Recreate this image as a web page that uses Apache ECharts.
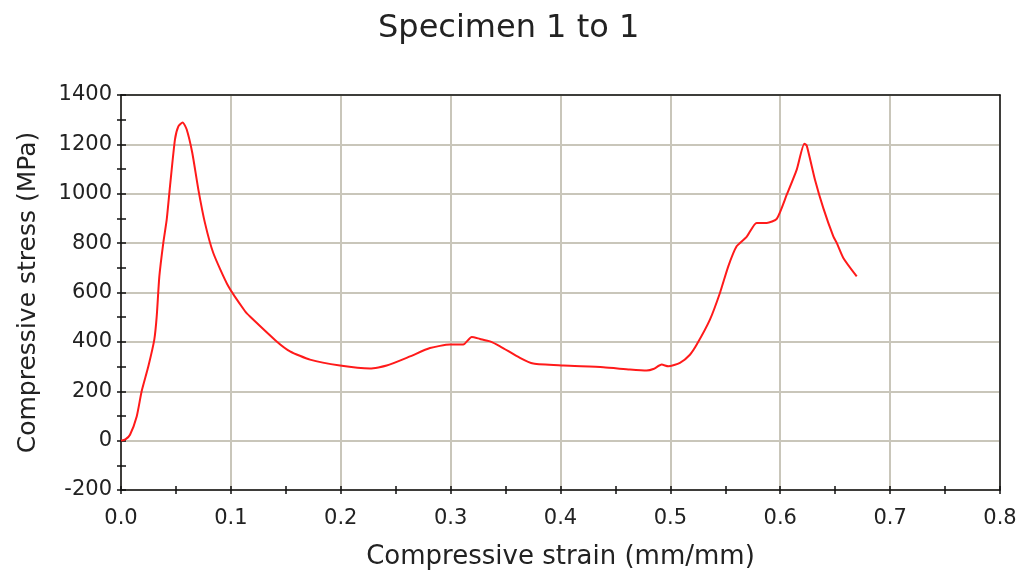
<!DOCTYPE html>
<html>
<head>
<meta charset="utf-8">
<script src="https://cdn.jsdelivr.net/npm/echarts@6/dist/echarts.min.js"></script>
<style>html,body{margin:0;padding:0;background:#fff}#c{width:1024px;height:577px}</style>
</head>
<body>
<div id="c"></div>
<script>
const titleText = 'Specimen 1 to 1';
const xName = 'Compressive strain (mm/mm)';
const yName = 'Compressive stress (MPa)';
const strain = [0,0.004,0.0082,0.0143,0.0188,0.0249,0.0303,0.0325,0.0349,0.0385,0.0416,0.0446,0.0491,0.0522,0.0561,0.0598,0.0649,0.0704,0.0764,0.084,0.0977,0.1129,0.1174,0.1417,0.1538,0.172,0.1993,0.2266,0.2418,0.263,0.2812,0.2994,0.3115,0.3192,0.3267,0.3358,0.345,0.3631,0.3752,0.4026,0.439,0.4632,0.4784,0.4845,0.4921,0.4981,0.5087,0.5178,0.524,0.536,0.5451,0.5527,0.5603,0.5694,0.5785,0.5877,0.5968,0.6059,0.615,0.6219,0.6241,0.6316,0.6392,0.6483,0.6514,0.6574,0.6696];
const stress = [0,5,24,98,200,301,409,503,665,801,895,1030,1219,1273,1289,1260,1165,1017,882,760,625,524,503,402,362,328,304,292,304,341,375,389,389,420,412,402,382,335,312,304,297,288,284,290,308,301,315,348,389,490,598,706,787,825,882,882,898,996,1098,1203,1195,1057,942,827,801,740,665];
const xTicks = {min:0, max:0.8, interval:0.1};
const yTicks = {min:-200, max:1400, interval:200};

const data = strain.map((x,i)=>[x, stress[i]]);
const font = 'DejaVu Sans';
const chart = echarts.init(document.getElementById('c'));
const tickStyle = {color:'#111', width:1.5};
const borderAxis = (extra)=>Object.assign({
  type:'value', axisLine:{show:true, onZero:false, lineStyle:{color:'#111', width:1.5}},
  axisTick:{show:false}, minorTick:{show:false}, axisLabel:{show:false}, splitLine:{show:false}
}, extra);
chart.setOption({
  animation:false,
  title:{text:titleText, left:373, top:8, textStyle:{fontFamily:font, fontSize:32, fontWeight:'normal', color:'#222'}},
  grid:{left:121, right:24, top:95, bottom:87, show:false},
  xAxis:[{
    type:'value', min:xTicks.min, max:xTicks.max, interval:xTicks.interval,
    name:xName, nameLocation:'middle', nameGap:54,
    nameTextStyle:{fontFamily:font, fontSize:26, color:'#222'},
    axisLine:{show:true, onZero:false, lineStyle:{color:'#111', width:1.5}},
    axisTick:{show:true, inside:false, length:4, lineStyle:tickStyle},
    minorTick:{show:true, splitNumber:2, length:4, lineStyle:tickStyle},
    axisLabel:{fontFamily:font, fontSize:21, color:'#222', margin:18, formatter:v=>v.toFixed(1)},
    splitLine:{show:true, lineStyle:{color:'#c9c6ba', width:2}}
  },{
    type:'value', min:xTicks.min, max:xTicks.max, interval:xTicks.interval, position:'bottom',
    axisLine:{show:false, onZero:false},
    axisTick:{show:true, inside:true, length:4, lineStyle:tickStyle},
    minorTick:{show:true, splitNumber:2, length:4, lineStyle:tickStyle},
    axisLabel:{show:false}, splitLine:{show:false}
  }, borderAxis({min:xTicks.min, max:xTicks.max, interval:xTicks.interval, position:'top'})],
  yAxis:[{
    type:'value', min:yTicks.min, max:yTicks.max, interval:yTicks.interval,
    name:yName, nameLocation:'middle', nameGap:80,
    nameTextStyle:{fontFamily:font, fontSize:25, color:'#222'},
    axisLine:{show:true, onZero:false, lineStyle:{color:'#111', width:1.5}},
    axisTick:{show:true, inside:false, length:4, lineStyle:tickStyle},
    minorTick:{show:true, splitNumber:2, length:4, lineStyle:tickStyle},
    axisLabel:{fontFamily:font, fontSize:21, color:'#222', margin:9, formatter:v=>String(v)},
    splitLine:{show:true, lineStyle:{color:'#c9c6ba', width:2}}
  },{
    type:'value', min:yTicks.min, max:yTicks.max, interval:yTicks.interval, position:'left',
    axisLine:{show:false, onZero:false},
    axisTick:{show:true, inside:true, length:5, lineStyle:tickStyle},
    minorTick:{show:true, splitNumber:2, length:5, lineStyle:tickStyle},
    axisLabel:{show:false}, splitLine:{show:false}
  }, borderAxis({min:yTicks.min, max:yTicks.max, interval:yTicks.interval, position:'right'})],
  series:[{
    type:'line', data:data, xAxisIndex:0, yAxisIndex:0, showSymbol:false, smooth:0.2,
    lineStyle:{color:'#ff1a1a', width:2}
  }]
});
</script>
</body>
</html>
